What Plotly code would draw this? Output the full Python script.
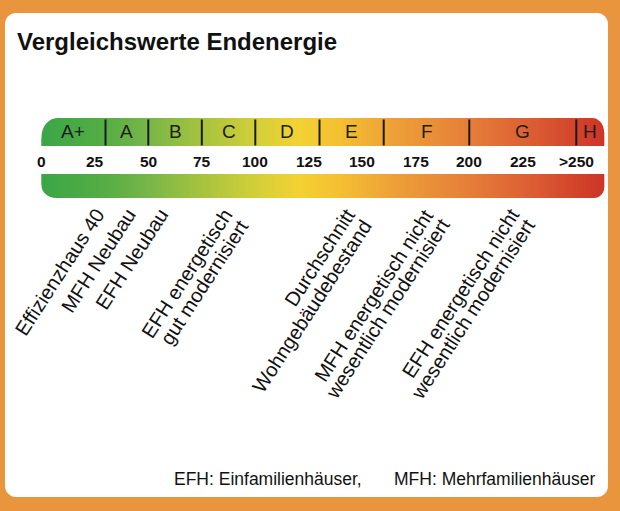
import numpy as np
import plotly.graph_objects as go

# ---------------- data ----------------
classes = ["A+", "A", "B", "C", "D", "E", "F", "G", "H"]
class_bounds = [0, 30, 50, 75, 100, 130, 160, 200, 250, 263]
tick_values = [0, 25, 50, 75, 100, 125, 150, 175, 200, 225, 250]
tick_labels = ["0", "25", "50", "75", "100", "125", "150", "175", "200", "225", ">250"]
ref_labels = [
    ["Effizienzhaus 40"],
    ["MFH Neubau"],
    ["EFH Neubau"],
    ["EFH energetisch", "gut modernisiert"],
    ["Durchschnitt", "Wohngebäudebestand"],
    ["MFH energetisch nicht", "wesentlich modernisiert"],
    ["EFH energetisch nicht", "wesentlich modernisiert"],
]
ref_values = [32, 47, 62, 92, 149.5, 186, 226]
title_text = "Vergleichswerte Endenergie"
footer_parts = ["EFH: Einfamilienhäuser,", "MFH: Mehrfamilienhäuser"]

# ---------------- style ----------------
W, H = 620, 511
S = 2.14          # px per unit
X0PX = 41.3       # pixel of value 0
xr = [-X0PX / S, (W - X0PX) / S]
FONT = "Liberation Sans, Arial, Helvetica, sans-serif"
ORANGE = "#e8953e"
grad_stops = [(0, "#3aa646"), (30, "#56ad45"), (50, "#78b648"), (75, "#a6c33f"),
              (100, "#d2cf38"), (120, "#f3d233"), (140, "#f4bf31"), (165, "#eda038"),
              (200, "#e57e38"), (230, "#db5c33"), (263, "#cd3426")]
vmax = class_bounds[-1]
colorscale = [[v / vmax, c] for v, c in grad_stops]

TOP_BAR = (118, 145.5)
LOW_BAR = (174, 198)

fig = go.Figure()

N = 500
edges = np.linspace(class_bounds[0], class_bounds[-1], N + 1)
centers = (edges[:-1] + edges[1:]) / 2
for (y0, y1) in (TOP_BAR, LOW_BAR):
    fig.add_trace(go.Heatmap(x=edges, y=[y0, y1], z=[centers], colorscale=colorscale,
                             zmin=0, zmax=vmax, showscale=False, hoverinfo="skip"))

shapes = []

def rrect_paper(x0, y0, x1, y1, r):
    k = 0.5523
    def px(v):
        return v / W
    p = []
    p.append(f"M {px(x0 + r)},{y0}")
    p.append(f"L {px(x1 - r)},{y0}")
    p.append(f"C {px(x1 - r + k * r)},{y0} {px(x1)},{y0 + r - k * r} {px(x1)},{y0 + r}")
    p.append(f"L {px(x1)},{y1 - r}")
    p.append(f"C {px(x1)},{y1 - r + k * r} {px(x1 - r + k * r)},{y1} {px(x1 - r)},{y1}")
    p.append(f"L {px(x0 + r)},{y1}")
    p.append(f"C {px(x0 + r - k * r)},{y1} {px(x0)},{y1 - r + k * r} {px(x0)},{y1 - r}")
    p.append(f"L {px(x0)},{y0 + r}")
    p.append(f"C {px(x0)},{y0 + r - k * r} {px(x0 + r - k * r)},{y0} {px(x0 + r)},{y0}")
    p.append("Z")
    return " ".join(p)

# white panel
shapes.append(dict(type="path", xref="paper", yref="y", path=rrect_paper(5, 13, 608, 497, 11),
                   fillcolor="white", line=dict(width=0), layer="below"))

def corner_mask(xv, yc, sx, sy, rx, ry):
    k = 0.5523
    e = 2.0
    ex = e / S
    rxd = rx / S
    ax, ay = xv, yc + sy * ry
    bx, by = xv + sx * rxd, yc
    c1 = (xv, yc + sy * ry * (1 - k))
    c2 = (xv + sx * rxd * (1 - k), yc)
    path = (f"M {xv - sx * ex},{yc - sy * e} L {xv - sx * ex},{ay} L {ax},{ay} "
            f"C {c1[0]},{c1[1]} {c2[0]},{c2[1]} {bx},{by} L {bx},{yc - sy * e} Z")
    return dict(type="path", xref="x", yref="y", path=path, fillcolor="white",
                line=dict(width=0), layer="above")

x_lo, x_hi = class_bounds[0], class_bounds[-1]
shapes.append(corner_mask(x_lo, TOP_BAR[0], +1, +1, 16, 20))
shapes.append(corner_mask(x_hi, TOP_BAR[0], -1, +1, 12, 14))
shapes.append(corner_mask(x_lo, LOW_BAR[1], +1, -1, 15, 13))
shapes.append(corner_mask(x_hi, LOW_BAR[1], -1, -1, 10, 10))

# class dividers
for b in class_bounds[1:-1]:
    shapes.append(dict(type="line", xref="x", yref="y", x0=b, x1=b, y0=119.5, y1=TOP_BAR[1],
                       line=dict(color="#1a1a1a", width=2), layer="above"))

annotations = []
annotations.append(dict(text=f"<b>{title_text}</b>", xref="paper", yref="y", x=15 / W, y=41,
                        xanchor="left", yanchor="middle", showarrow=False,
                        font=dict(family=FONT, size=24, color="#111111")))

for i, c in enumerate(classes):
    mid = (class_bounds[i] + class_bounds[i + 1]) / 2
    annotations.append(dict(text=c, x=mid, y=131.5, xref="x", yref="y", showarrow=False,
                            xanchor="center", yanchor="middle",
                            font=dict(family=FONT, size=19, color="#1c1c1c")))

for v, t in zip(tick_values, tick_labels):
    annotations.append(dict(text=f"<b>{t}</b>", x=v, y=161.5, xref="x", yref="y", showarrow=False,
                            xanchor="center", yanchor="middle",
                            font=dict(family=FONT, size=15.5, color="#111111")))

ANG = -57
for lines, v in zip(ref_labels, ref_values):
    for j, line in enumerate(lines):
        annotations.append(dict(text=line, x=v, y=203, xref="x", yref="y", showarrow=False,
                                xanchor="right", yanchor="top", textangle=ANG,
                                xshift=16 * j, yshift=-11 * j, borderpad=0,
                                font=dict(family=FONT, size=20, color="#111111")))

annotations.append(dict(text=footer_parts[0], xref="paper", yref="y", x=172 / W, y=479,
                        xanchor="left", yanchor="middle", showarrow=False,
                        font=dict(family=FONT, size=17.5, color="#111111")))
annotations.append(dict(text=footer_parts[1], xref="paper", yref="y", x=597 / W, y=479,
                        xanchor="right", yanchor="middle", showarrow=False,
                        font=dict(family=FONT, size=17.5, color="#111111")))

fig.update_layout(
    width=W, height=H, margin=dict(l=0, r=0, t=0, b=0),
    paper_bgcolor=ORANGE, plot_bgcolor=ORANGE, showlegend=False,
    xaxis=dict(range=xr, visible=False, fixedrange=True),
    yaxis=dict(range=[H, 0], visible=False, fixedrange=True),
    shapes=shapes, annotations=annotations,
)

fig.write_html("out.html", config={"displayModeBar": False},
               post_script="document.body.style.margin='0';document.body.style.padding='0';")
